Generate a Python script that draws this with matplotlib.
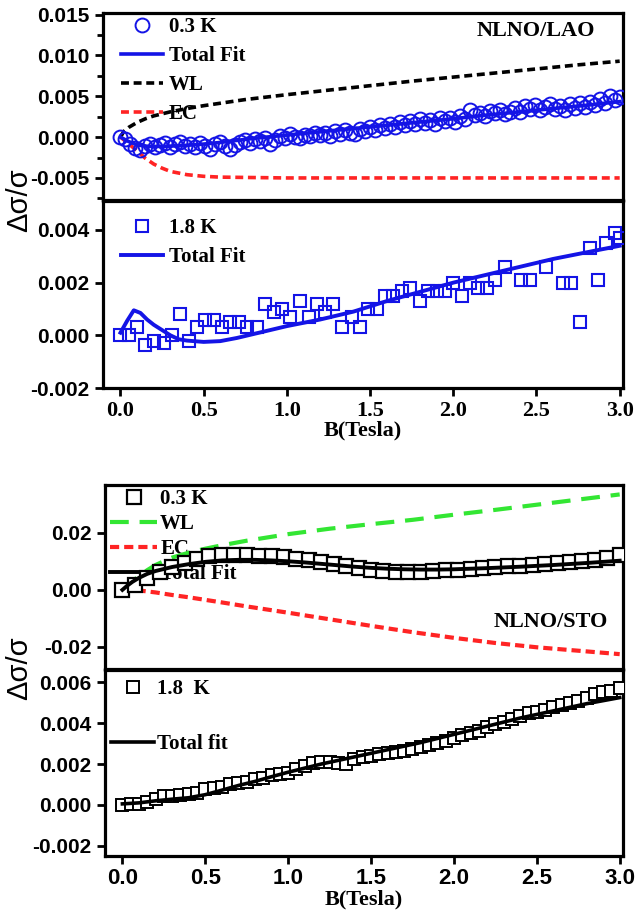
import matplotlib
matplotlib.use("Agg")
import matplotlib.pyplot as plt
import numpy as np
from matplotlib.ticker import FixedLocator, FormatStrFormatter, AutoMinorLocator

# ---------------------------------------------------------------- data ----
# NLNO/LAO, 0.3 K (values in units of 1e-3)
b_lao_03 = [0.00, 0.03, 0.06, 0.09, 0.12, 0.15, 0.18, 0.21, 0.24, 0.27,
            0.30, 0.33, 0.36, 0.39, 0.42, 0.45, 0.48, 0.51, 0.54, 0.57,
            0.60, 0.63, 0.66, 0.69, 0.72, 0.75, 0.78, 0.81, 0.84, 0.87,
            0.90, 0.93, 0.96, 0.99, 1.02, 1.05, 1.08, 1.11, 1.14, 1.17,
            1.20, 1.23, 1.26, 1.29, 1.32, 1.35, 1.38, 1.41, 1.44, 1.47,
            1.50, 1.53, 1.56, 1.59, 1.62, 1.65, 1.68, 1.71, 1.74, 1.77,
            1.80, 1.83, 1.86, 1.89, 1.92, 1.95, 1.98, 2.01, 2.04, 2.07,
            2.10, 2.13, 2.16, 2.19, 2.22, 2.25, 2.28, 2.31, 2.34, 2.37,
            2.40, 2.43, 2.46, 2.49, 2.52, 2.55, 2.58, 2.61, 2.64, 2.67,
            2.70, 2.73, 2.76, 2.79, 2.82, 2.85, 2.88, 2.91, 2.94, 2.97, 3.00]
ds_lao_03 = [0.00, -0.25, -0.80, -1.30, -1.55, -1.10, -0.85, -1.20, -0.95, -0.70,
             -1.25, -0.90, -0.55, -1.10, -0.80, -1.25, -0.75, -1.05, -1.40, -0.85,
             -0.60, -1.10, -1.50, -0.95, -0.55, -0.30, -0.70, -0.20, -0.45, -0.05,
             -0.90, -0.35, 0.10, -0.15, 0.35, 0.05, -0.10, 0.30, 0.10, 0.55,
             0.20, 0.45, 0.15, 0.70, 0.40, 0.85, 0.55, 0.35, 1.00, 0.75,
             1.25, 0.85, 1.45, 1.10, 1.60, 1.30, 1.85, 1.45, 1.95, 1.60,
             2.20, 1.75, 2.05, 1.55, 2.40, 2.00, 2.30, 1.90, 2.60, 2.25,
             3.30, 2.70, 3.00, 2.55, 3.25, 2.90, 3.35, 2.80, 3.10, 3.55,
             3.05, 3.80, 3.40, 3.95, 3.30, 3.70, 4.10, 3.45, 3.85, 3.30,
             4.00, 3.60, 4.15, 3.75, 4.30, 3.95, 4.65, 4.20, 5.05, 4.55, 4.90]

b_lao_03_fit = [0, 0.05, 0.1, 0.15, 0.2, 0.3, 0.4, 0.5, 0.6, 0.7, 0.8, 0.9, 1.0,
                1.2, 1.4, 1.6, 1.8, 2.0, 2.2, 2.4, 2.6, 2.8, 3.0]
fit_lao_03 = [0, -0.55, -0.95, -1.10, -1.15, -1.10, -1.00, -0.85, -0.65, -0.40,
              -0.15, 0.05, 0.25, 0.65, 1.05, 1.45, 1.85, 2.25, 2.70, 3.10, 3.50,
              3.90, 4.35]

b_lao_wl = [0, 0.02, 0.05, 0.1, 0.15, 0.2, 0.3, 0.4, 0.5, 0.6, 0.75, 1.0, 1.25,
            1.5, 1.75, 2.0, 2.25, 2.5, 2.75, 3.0]
wl_lao = [0, 0.7, 1.2, 1.8, 2.25, 2.6, 3.1, 3.5, 3.85, 4.15, 4.6, 5.2, 5.75,
          6.3, 6.85, 7.35, 7.85, 8.35, 8.85, 9.3]

b_lao_ec = [0, 0.03, 0.06, 0.1, 0.15, 0.2, 0.25, 0.3, 0.4, 0.5, 0.6, 0.8, 1.0,
            1.5, 2.0, 2.5, 3.0]
ec_lao = [0, -0.5, -1.0, -1.7, -2.6, -3.3, -3.8, -4.2, -4.6, -4.8, -4.9, -4.95,
          -5.0, -5.0, -5.0, -5.0, -5.0]

# NLNO/LAO, 1.8 K
b_lao_18 = [0.00, 0.05, 0.10, 0.15, 0.20, 0.26, 0.31, 0.36, 0.41, 0.46, 0.51,
            0.56, 0.61, 0.66, 0.71, 0.76, 0.82, 0.87, 0.92, 0.97, 1.02, 1.08,
            1.13, 1.18, 1.23, 1.28, 1.33, 1.39, 1.44, 1.49, 1.54, 1.59, 1.64,
            1.69, 1.74, 1.80, 1.85, 1.90, 1.95, 2.00, 2.05, 2.10, 2.15, 2.20,
            2.25, 2.31, 2.41, 2.46, 2.56, 2.66, 2.71, 2.76, 2.82, 2.87, 2.92,
            2.97, 3.00]
ds_lao_18 = [0.0, 0.0, 0.3, -0.35, -0.2, -0.3, 0.0, 0.8, -0.2, 0.3, 0.6,
             0.6, 0.3, 0.5, 0.5, 0.3, 0.3, 1.2, 0.9, 1.0, 0.7, 1.3,
             0.7, 1.2, 0.9, 1.2, 0.3, 0.7, 0.3, 1.0, 1.0, 1.5, 1.5,
             1.7, 1.8, 1.3, 1.7, 1.7, 1.7, 2.0, 1.5, 2.0, 1.8, 1.8,
             2.1, 2.6, 2.1, 2.1, 2.6, 2.0, 2.0, 0.5, 3.3, 2.1, 3.5,
             3.9, 3.7]
b_lao_18_fit = [0, 0.04, 0.08, 0.12, 0.16, 0.2, 0.25, 0.3, 0.35, 0.4, 0.5, 0.6,
                0.7, 0.8, 0.9, 1.0, 1.2, 1.4, 1.6, 1.8, 2.0, 2.2, 2.4, 2.6, 2.8, 3.0]
fit_lao_18 = [0.1, 0.55, 0.95, 0.85, 0.6, 0.4, 0.2, 0.0, -0.15, -0.2, -0.25, -0.22,
              -0.1, 0.05, 0.2, 0.35, 0.6, 0.9, 1.3, 1.65, 2.0, 2.3, 2.6, 2.9, 3.15, 3.4]

# NLNO/STO, 0.3 K
b_sto_03 = [0.000, 0.075, 0.150, 0.225, 0.300, 0.375, 0.450, 0.525, 0.600, 0.675,
            0.750, 0.825, 0.900, 0.975, 1.050, 1.125, 1.200, 1.275, 1.350, 1.425,
            1.500, 1.575, 1.650, 1.725, 1.800, 1.875, 1.950, 2.025, 2.100, 2.175,
            2.250, 2.325, 2.400, 2.475, 2.550, 2.625, 2.700, 2.775, 2.850, 2.925, 3.000]
ds_sto_03 = [0.0, 1.7, 4.0, 6.3, 8.0, 9.5, 10.9, 11.8, 12.2, 12.2,
             12.2, 12.0, 11.8, 11.4, 10.9, 10.3, 9.7, 8.9, 8.3, 7.7,
             7.1, 6.6, 6.3, 6.2, 6.3, 6.5, 6.8, 7.1, 7.4, 7.6,
             7.9, 8.2, 8.5, 8.8, 9.1, 9.4, 9.7, 10.0, 10.5, 11.2, 12.2]
b_sto_03_fit = [0, 0.03, 0.06, 0.1, 0.15, 0.2, 0.3, 0.4, 0.5, 0.6, 0.7, 0.8, 0.9,
                1.0, 1.1, 1.2, 1.3, 1.4, 1.5, 1.6, 1.7, 1.8, 1.9, 2.0, 2.2, 2.4,
                2.6, 2.8, 3.0]
fit_sto_03 = [0, 1.5, 2.8, 4.2, 5.6, 6.6, 8.0, 9.0, 9.8, 10.3, 10.5, 10.5, 10.3,
              10.0, 9.6, 9.1, 8.6, 8.1, 7.7, 7.4, 7.2, 7.1, 7.1, 7.2, 7.6, 8.1,
              8.7, 9.4, 10.2]
b_sto_wl = [0, 0.03, 0.06, 0.1, 0.15, 0.2, 0.3, 0.4, 0.5, 0.6, 0.75, 1.0, 1.25,
            1.5, 1.75, 2.0, 2.25, 2.5, 2.75, 3.0]
wl_sto = [0, 1.6, 3.0, 4.8, 6.9, 8.7, 11.3, 13.0, 14.4, 15.6, 17.2, 19.5, 21.4,
          23.0, 24.5, 26.3, 28.0, 29.8, 31.6, 33.4]
b_sto_ec = [0, 0.1, 0.2, 0.3, 0.4, 0.5, 0.6, 0.75, 1.0, 1.25, 1.5, 1.75, 2.0,
            2.25, 2.5, 2.75, 3.0]
ec_sto = [0, -0.2, -0.9, -1.8, -2.6, -3.5, -4.4, -5.8, -8.0, -10.3, -12.6, -14.8,
          -16.8, -18.6, -20.1, -21.3, -22.5]

# NLNO/STO, 1.8 K
b_sto_18 = [0.00, 0.05, 0.10, 0.15, 0.20, 0.25, 0.30, 0.35, 0.40, 0.45,
            0.50, 0.55, 0.60, 0.65, 0.70, 0.75, 0.80, 0.85, 0.90, 0.95,
            1.00, 1.05, 1.10, 1.15, 1.20, 1.25, 1.30, 1.35, 1.40, 1.45,
            1.50, 1.55, 1.60, 1.65, 1.70, 1.75, 1.80, 1.85, 1.90, 1.95,
            2.00, 2.05, 2.10, 2.15, 2.20, 2.25, 2.30, 2.35, 2.40, 2.45,
            2.50, 2.55, 2.60, 2.65, 2.70, 2.75, 2.80, 2.85, 2.90, 2.95, 3.00]
ds_sto_18 = [0.00, 0.02, 0.05, 0.15, 0.30, 0.45, 0.45, 0.50, 0.55, 0.60,
             0.80, 0.85, 0.90, 1.00, 1.05, 1.10, 1.25, 1.30, 1.45, 1.50,
             1.55, 1.75, 1.90, 2.05, 2.10, 2.10, 2.05, 2.00, 2.25, 2.35,
             2.40, 2.50, 2.55, 2.60, 2.65, 2.75, 2.85, 2.95, 3.05, 3.15,
             3.25, 3.40, 3.50, 3.60, 3.80, 3.95, 4.05, 4.20, 4.35, 4.50,
             4.55, 4.65, 4.80, 4.90, 5.00, 5.10, 5.25, 5.45, 5.50, 5.55, 5.70]
b_sto_18_fit = [0, 0.1, 0.2, 0.3, 0.4, 0.5, 0.6, 0.7, 0.8, 0.9, 1.0, 1.2, 1.4,
                1.6, 1.8, 2.0, 2.2, 2.4, 2.6, 2.8, 3.0]
fit_sto_18 = [0.05, 0.1, 0.2, 0.28, 0.35, 0.5, 0.72, 0.95, 1.15, 1.38, 1.6, 2.0,
              2.35, 2.7, 3.05, 3.45, 3.85, 4.25, 4.6, 4.95, 5.25]

x_ticks = [0.0, 0.5, 1.0, 1.5, 2.0, 2.5, 3.0]


def s(v):
    return np.array(v) * 1e-3


# ---------------------------------------------------------------- style ---
SERIF = "Liberation Serif"
SANS = "Liberation Sans"
BLUE = "#1414e6"
RED = "#ff2424"
GREEN = "#33e633"

fig = plt.figure(figsize=(6.36, 9.18), dpi=100)

W, H = 636.0, 918.0


def make_axes(left, top, right, bottom):
    return fig.add_axes([left / W, 1 - bottom / H, (right - left) / W, (bottom - top) / H])


ax1 = make_axes(103, 13, 623, 200)
ax2 = make_axes(103, 201, 623, 388)
ax3 = make_axes(105, 485, 623, 669)
ax4 = make_axes(105, 670, 623, 856)


def style(ax, yticks, fmt, show_x, xfont):
    ax.set_xlim(-0.105, 3.02)
    for sp in ax.spines.values():
        sp.set_linewidth(2.3)
    ax.yaxis.set_major_locator(FixedLocator(yticks))
    ax.yaxis.set_major_formatter(FormatStrFormatter(fmt))
    ax.tick_params(direction="out", length=6, width=2, labelsize=15)
    for lab in ax.get_yticklabels():
        lab.set_fontfamily(SANS)
        lab.set_fontweight("bold")
    ax.xaxis.set_major_locator(FixedLocator(x_ticks))
    ax.xaxis.set_major_formatter(FormatStrFormatter("%.1f"))
    if show_x:
        ax.tick_params(axis="x", labelsize=16, pad=3)
        for lab in ax.get_xticklabels():
            lab.set_fontfamily(xfont)
            lab.set_fontweight("bold")
        ax.set_xlabel("B(Tesla)", fontfamily=SERIF, fontweight="bold",
                      fontsize=16, labelpad=0)
    else:
        ax.tick_params(axis="x", bottom=False, labelbottom=False)


leg_font = {"family": SERIF, "weight": "bold", "size": 15}


def add_legend(ax, x, y, hlen, spacing, pad=0.3):
    leg = ax.legend(loc="upper left", bbox_to_anchor=(x, y), frameon=False,
                    prop=leg_font, handlelength=hlen, handletextpad=pad,
                    labelspacing=spacing, borderpad=0.2, borderaxespad=0)
    leg.set_zorder(1)
    return leg


# ---- NLNO/LAO, 0.3 K
ax1.plot(b_lao_03, s(ds_lao_03), "o", mfc="none", mec=BLUE, ms=10, mew=1.4,
         label="0.3 K", zorder=3)
ax1.plot(b_lao_03_fit, s(fit_lao_03), "-", color=BLUE, lw=2.6, label="Total Fit", zorder=4)
ax1.plot(b_lao_wl, s(wl_lao), "--", color="black", lw=2.6, dashes=(2.2, 1.3), label="WL")
ax1.plot(b_lao_ec, s(ec_lao), "--", color=RED, lw=2.6, dashes=(2.2, 1.3), label="EC")
ax1.set_ylim(-0.0077, 0.0152)
style(ax1, [-0.005, 0.0, 0.005, 0.010, 0.015], "%.3f", False, SERIF)
ax1.yaxis.set_minor_locator(AutoMinorLocator(2))
ax1.tick_params(axis="y", which="minor", direction="out", length=4, width=2)
add_legend(ax1, 0.027, 1.0, 2.0, 0.43)
ax1.text(0.947, 0.905, "NLNO/LAO", transform=ax1.transAxes, ha="right", va="center",
         fontfamily=SERIF, fontweight="bold", fontsize=16)

# ---- NLNO/LAO, 1.8 K
ax2.plot(b_lao_18, s(ds_lao_18), "s", mfc="none", mec=BLUE, ms=9, mew=1.5,
         label="1.8 K", zorder=3)
ax2.plot(b_lao_18_fit, s(fit_lao_18), "-", color=BLUE, lw=2.8, label="Total Fit")
ax2.set_ylim(-0.002, 0.0051)
style(ax2, [-0.002, 0.0, 0.002, 0.004], "%.3f", True, SERIF)
add_legend(ax2, 0.027, 0.93, 2.0, 0.44)

# ---- NLNO/STO, 0.3 K
ax3.plot(b_sto_03, s(ds_sto_03), "s", mfc="white", mec="black", ms=9.5, mew=1.6,
         label="0.3 K", zorder=3)
ax3.plot(b_sto_wl, s(wl_sto), "--", color=GREEN, lw=3, dashes=(4.5, 2.6), label="WL")
ax3.plot(b_sto_ec, s(ec_sto), "--", color=RED, lw=3, dashes=(2.2, 1.2), label="EC")
ax3.plot(b_sto_03_fit, s(fit_sto_03), "-", color="black", lw=2.8, label="Total Fit", zorder=4)
ax3.set_ylim(-0.0277, 0.0367)
style(ax3, [-0.02, 0.0, 0.02], "%.2f", False, SANS)
add_legend(ax3, 0.002, 1.0, 2.25, 0.24, pad=0.15)
ax3.text(0.972, 0.255, "NLNO/STO", transform=ax3.transAxes, ha="right", va="center",
         fontfamily=SERIF, fontweight="bold", fontsize=16)

# ---- NLNO/STO, 1.8 K
ax4.plot(b_sto_18, s(ds_sto_18), "s", mfc="white", mec="black", ms=9, mew=1.4,
         label="1.8  K", zorder=3)
ax4.plot(b_sto_18_fit, s(fit_sto_18), "-", color="black", lw=2.6, label="Total fit", zorder=4)
ax4.set_ylim(-0.0025, 0.0066)
style(ax4, [-0.002, 0.0, 0.002, 0.004, 0.006], "%.3f", True, SANS)
add_legend(ax4, 0.004, 0.975, 2.05, 1.7, pad=0.15)

# shared y labels
for yc in (200, 668):
    fig.text(0.03, 1 - yc / H, "Δσ/σ", rotation=90, ha="center", va="center",
             fontfamily=SANS, fontsize=21)

fig.savefig("out.png", dpi=100)
